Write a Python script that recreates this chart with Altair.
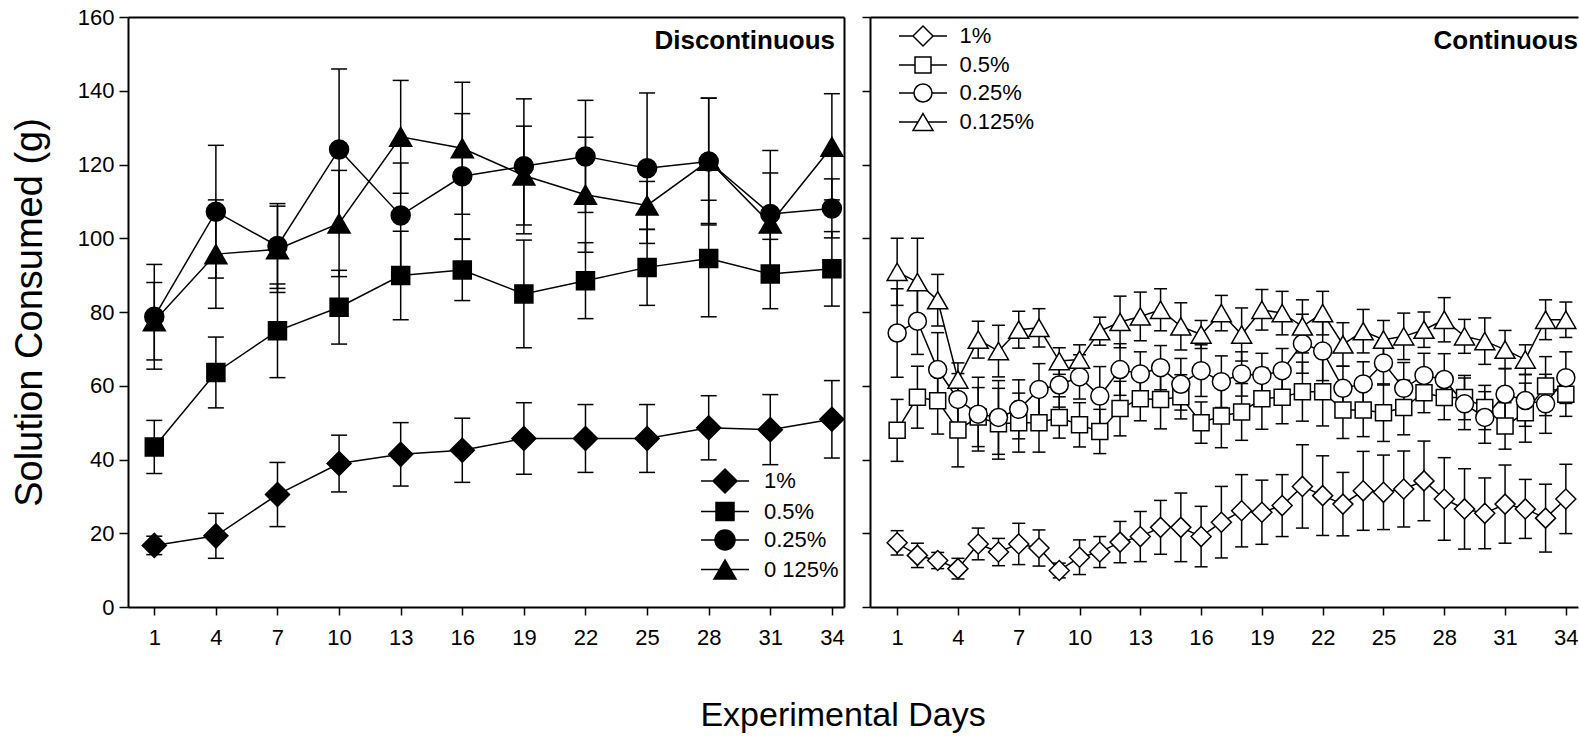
import altair as alt
import pandas as pd

# ---------------- data ----------------
SERIES = ["1%", "0.5%", "0.25%", "0.125%"]
DAY_TICKS = [1, 4, 7, 10, 13, 16, 19, 22, 25, 28, 31, 34]
Y_TICKS = [0, 20, 40, 60, 80, 100, 120, 140, 160]

disc_days = [1, 4, 7, 10, 13, 16, 19, 22, 25, 28, 31, 34]
disc_1 = [16.7, 19.3, 30.5, 38.9, 41.4, 42.5, 45.7, 45.7, 45.7, 48.6, 48.1, 50.9]
disc_1_err = [2.5, 6.1, 8.7, 7.7, 8.6, 8.7, 9.7, 9.2, 9.2, 8.7, 9.5, 10.5]
disc_05 = [43.4, 63.6, 74.9, 81.3, 89.9, 91.4, 84.9, 88.5, 92.1, 94.5, 90.3, 91.7]
disc_05_err = [7.2, 9.6, 12.7, 10.0, 12.0, 8.3, 14.6, 10.3, 10.3, 15.8, 9.4, 10.1]
disc_025 = [78.7, 107.2, 97.9, 124.1, 106.2, 116.8, 119.5, 122.2, 119.0, 120.8, 106.6, 108.1]
disc_025_err = [14.2, 18.0, 11.5, 21.8, 14.2, 17.0, 18.3, 15.2, 20.4, 17.2, 17.2, 8.0]
disc_0125 = [77.5, 95.7, 97.0, 104.0, 127.5, 124.4, 117.0, 111.8, 108.9, 121.0, 104.0, 124.8]
disc_0125_err = [10.5, 14.7, 11.7, 14.4, 15.3, 17.9, 13.4, 15.6, 6.5, 17.0, 13.7, 14.4]

cont_days = list(range(1, 35))
cont_1 = [17.4, 14.0, 12.6, 10.4, 17.1, 14.9, 17.1, 16.0, 9.9, 13.5, 14.9, 17.6,
          19.1, 21.6, 21.6, 19.1, 23.0, 26.1, 25.7, 27.5, 32.7, 30.2, 27.9, 31.5,
          31.1, 32.0, 34.2, 29.3, 26.6, 25.4, 27.9, 26.6, 24.1, 29.3]
cont_1_err = [3.3, 3.3, 2.2, 2.8, 4.3, 3.7, 5.6, 4.9, 2.0, 4.7, 4.2, 5.6,
              6.8, 7.3, 9.3, 8.2, 9.7, 9.8, 8.7, 8.4, 11.3, 10.8, 8.6, 10.7,
              10.1, 10.3, 10.8, 11.2, 10.9, 9.6, 10.6, 8.0, 9.2, 9.4]
cont_05 = [47.9, 56.9, 55.9, 48.0, 51.5, 49.7, 50.0, 50.0, 51.4, 49.4, 47.6, 53.8,
           56.5, 56.3, 57.0, 50.0, 51.8, 52.9, 56.5, 56.9, 58.4, 58.4, 53.4, 53.4,
           52.7, 54.1, 58.1, 56.8, 56.8, 54.1, 49.1, 52.7, 59.9, 57.7]
cont_05_err = [8.4, 8.4, 9.0, 10.0, 8.0, 9.6, 8.0, 8.0, 5.6, 6.0, 6.0, 7.4,
               6.0, 8.0, 6.0, 5.6, 8.6, 7.7, 8.3, 7.2, 8.0, 9.3, 7.7, 7.2,
               7.8, 7.4, 5.4, 6.0, 6.0, 6.0, 6.3, 8.0, 8.0, 6.0]
cont_025 = [74.3, 77.5, 64.4, 56.3, 52.3, 51.4, 53.6, 59.0, 60.2, 62.4, 57.2, 64.4,
            63.2, 64.9, 60.4, 64.1, 61.1, 63.2, 62.8, 64.1, 71.4, 69.4, 59.3, 60.5,
            66.2, 59.3, 62.8, 61.7, 55.1, 51.4, 57.7, 56.0, 55.1, 62.2]
cont_025_err = [12, 9, 10, 7, 10, 10, 8, 7, 6, 6, 8, 7,
                6, 6, 7, 7, 7, 6, 6, 6, 8, 8, 6, 6,
                6, 7, 6, 7, 7, 7, 7, 7, 8, 7]
cont_0125 = [90.9, 88.1, 83.2, 61.7, 72.5, 69.4, 75.2, 75.7, 66.7, 67.1, 74.8, 77.3,
             78.8, 80.6, 76.1, 73.9, 79.7, 73.9, 80.6, 79.7, 76.1, 79.7, 71.2, 74.8,
             72.5, 73.4, 75.2, 77.9, 73.4, 72.1, 69.8, 67.1, 77.9, 77.9]
cont_0125_err = [9.1, 11.9, 7.0, 4.5, 5.0, 7.0, 5.0, 5.2, 3.6, 4.0, 3.8, 7.0,
                 6.6, 5.7, 6.4, 3.8, 4.8, 7.2, 5.5, 5.9, 7.2, 5.9, 5.9, 5.9,
                 5.2, 6.3, 4.8, 6.0, 4.6, 6.3, 5.2, 4.0, 5.4, 4.8]


def long_df(days, cols):
    rows = []
    for name, (vals, errs) in zip(SERIES, cols):
        for d, v, e in zip(days, vals, errs):
            rows.append({"day": d, "value": v, "lo": v - e, "hi": v + e,
                         "series": name})
    return pd.DataFrame(rows)


disc_df = long_df(disc_days, [(disc_1, disc_1_err), (disc_05, disc_05_err),
                              (disc_025, disc_025_err), (disc_0125, disc_0125_err)])
cont_df = long_df(cont_days, [(cont_1, cont_1_err), (cont_05, cont_05_err),
                              (cont_025, cont_025_err), (cont_0125, cont_0125_err)])

# ---------------- style ----------------
FONT = "Liberation Sans"
SHAPES = ["diamond", "square", "circle", "triangle-up"]
H = 590


def legend_paths(d, s, c, tw, th):
    """Legend glyphs: symbol with a short line on each side (unit = 8 px)."""
    L = 3
    dia = f"M{-L},0L{-d},0M{d},0L{L},0M{-d},0L0,{-d}L{d},0L0,{d}Z"
    sq = f"M{-L},0L{-s},0M{s},0L{L},0M{-s},{-s}L{s},{-s}L{s},{s}L{-s},{s}Z"
    cir = (f"M{-L},0L{-c},0M{c},0L{L},0M{-c},0A{c},{c},0,1,0,{c},0"
           f"A{c},{c},0,1,0,{-c},0Z")
    hw = tw / 2
    tri = f"M{-L},0L{-hw},0M{hw},0L{L},0M0,{-th}L{tw},{th}L{-tw},{th}Z"
    return [dia, sq, cir, tri]


AX = dict(domainColor="black", domainWidth=2, tickColor="black", tickWidth=1.5,
          grid=False, labelFont=FONT, labelFontSize=22, labelColor="black",
          labelFlush=False)


def panel(df, width, xdom, sizes, fill, paths, lx, ly, loff, rpad, label_expr,
          label_text, text_dx, cap, left_labels, right_frame):
    xs = alt.Scale(domain=xdom, nice=False, zero=False)
    ys = alt.Scale(domain=[0, 160], nice=False, zero=False)
    base = alt.Chart(df)

    x_axis = alt.Axis(orient="bottom", values=DAY_TICKS, tickSize=8, labelPadding=12,
                      title=None, labelAngle=0, **AX)
    if left_labels:
        y_axis = alt.Axis(orient="left", values=Y_TICKS, tickSize=9, labelPadding=5,
                          title="Solution Consumed (g)", titleFont=FONT, titleFontSize=38,
                          titleFontWeight="normal", titleColor="black", titlePadding=28,
                          **AX)
    else:
        y_axis = alt.Axis(orient="left", values=Y_TICKS, tickSize=8, labels=False,
                          title=None, minExtent=0, **AX)

    bars = base.mark_rule(color="black", strokeWidth=1.5).encode(
        x=alt.X("day:Q", scale=xs, axis=x_axis),
        y=alt.Y("lo:Q", scale=ys, axis=y_axis),
        y2="hi:Q",
    )
    caps = [
        base.mark_tick(orient="horizontal", color="black", size=cap,
                       thickness=1.5, opacity=1).encode(
            x=alt.X("day:Q", scale=xs, axis=None),
            y=alt.Y(f"{col}:Q", scale=ys, axis=None),
        )
        for col in ("hi", "lo")
    ]
    frame = dict(domainColor="black", domainWidth=2, ticks=False, labels=False,
                 grid=False, title=None, minExtent=0)
    line = base.mark_line(color="black", strokeWidth=1.5).encode(
        x=alt.X("day:Q", scale=xs, axis=alt.Axis(orient="top", **frame)),
        y=alt.Y("value:Q", scale=ys,
                axis=alt.Axis(orient="right", **frame) if right_frame else None),
        detail="series:N",
    )
    pts = [
        base.transform_filter(alt.datum.series == s).mark_point(
            shape=shp, size=sz, filled=True, opacity=1, fill=fill, stroke="black",
            strokeWidth=1.5).encode(
            x=alt.X("day:Q", scale=xs, axis=None),
            y=alt.Y("value:Q", scale=ys, axis=None),
        )
        for s, shp, sz in zip(SERIES, SHAPES, sizes)
    ]
    leg_kwargs = dict(orient="none", legendX=lx, legendY=ly, title=None, padding=0,
                      labelFont=FONT, labelFontSize=22, labelColor="black",
                      labelOffset=loff, rowPadding=rpad, symbolSize=256,
                      symbolStrokeWidth=1.5, symbolOpacity=1)
    if label_expr:
        leg_kwargs["labelExpr"] = label_expr
    # invisible carrier of the legend, kept to a mid-panel day so that its
    # wide legend glyphs never widen the panel bounds
    leg = base.transform_filter(alt.datum.day == 13).mark_point(
        filled=True, opacity=0, size=256, fill=fill, stroke="black",
        strokeWidth=1.5).encode(
        x=alt.X("day:Q", scale=xs, axis=None),
        y=alt.Y("value:Q", scale=ys, axis=None),
        shape=alt.Shape("series:N", scale=alt.Scale(domain=SERIES, range=paths),
                        legend=alt.Legend(**leg_kwargs)),
    )
    txt = alt.Chart(pd.DataFrame({"t": [label_text]})).mark_text(
        align="right", baseline="middle", font=FONT, fontSize=26, fontWeight="bold",
        color="black").encode(text="t:N", x=alt.value(width - text_dx), y=alt.value(24))

    return alt.layer(bars, *caps, line, *pts, leg, txt).resolve_axis(
        x="independent", y="independent").properties(width=width, height=H)


left = panel(disc_df, 716, [-0.28, 34.59], [576, 324, 361, 484], "black",
             legend_paths(1.5, 1.125, 1.25, 1.375, 1.19),
             586, 453, 28, 3.5, "datum.label === '0.125%' ? '0 125%' : datum.label",
             "Discontinuous", 9, 16, True, True)
right = panel(cont_df, 708, [-0.34, 34.60], [400, 256, 324, 400], "white",
              legend_paths(1.25, 1.0, 1.125, 1.25, 1.06),
              42, 8, 25.5, 5, None, "Continuous", 0, 13, False, False)

chart = alt.hconcat(left, right, spacing=14).resolve_scale(
    shape="independent").properties(
    padding={"left": 11, "top": 6, "right": 0, "bottom": 0},
    title=alt.TitleParams("Experimental Days", orient="bottom", anchor="middle",
                          font=FONT, fontSize=34, fontWeight="normal", color="black",
                          offset=51, dx=48),
).configure_view(stroke=None)

chart.save("out.html", embed_options={"renderer": "svg", "actions": False})
